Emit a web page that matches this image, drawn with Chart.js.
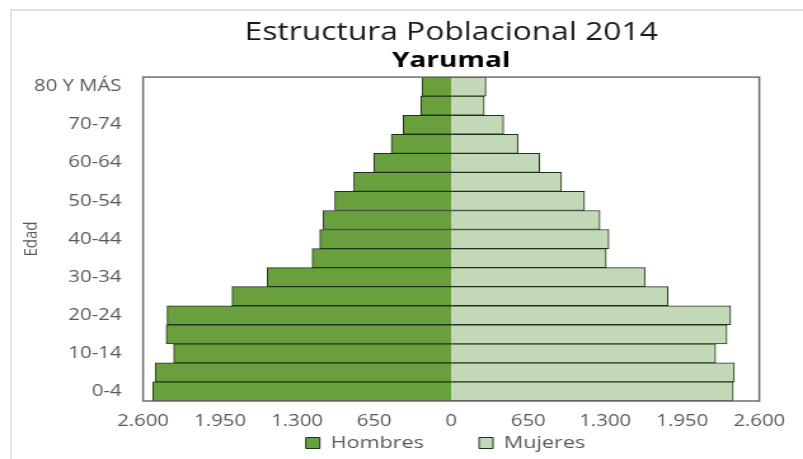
<!DOCTYPE html>
<html>
<head>
<meta charset="utf-8">
<script src="https://cdn.jsdelivr.net/npm/chart.js@4"></script>
<style>
  html, body { margin: 0; padding: 0; background: #fff; overflow: hidden; width: 803px; height: 459px; }
  #marco { position: absolute; left: 10px; top: 9px; width: 793px; height: 450px;
           border-left: 2px solid #e2e2e2; border-top: 2px solid #e2e2e2; box-sizing: border-box; }
  /* el grafico original esta estirado en horizontal */
  #caja { position: absolute; left: 0; top: 0; width: 632px; height: 459px;
          transform: scaleX(1.2706); transform-origin: 0 0; }
</style>
</head>
<body>
<div id="marco"></div>
<div id="caja"><canvas id="piramide"></canvas></div>
<script>
const edades = ['0-4', '5-9', '10-14', '15-19', '20-24', '25-29', '30-34', '35-39', '40-44',
  '45-49', '50-54', '55-59', '60-64', '65-69', '70-74', '75-79', '80 Y MÁS'];
const hombres = [2519, 2498, 2342, 2405, 2397, 1849, 1553, 1173, 1109, 1080, 982, 822, 653, 506, 405, 256, 247];
const mujeres = [2380, 2389, 2231, 2327, 2358, 1829, 1635, 1308, 1331, 1255, 1125, 931, 746, 563, 442, 279, 293];
const ticksX = [-2600, -1950, -1300, -650, 0, 650, 1300, 1950, 2600];

const fuente = "'Open Sans', sans-serif";
const gris = '#595959';

const formato = (v) => Math.abs(v).toString().replace(/\B(?=(\d{3})+(?!\d))/g, '.');

// marco del area de trazado
const marcoArea = {
  id: 'marcoArea',
  afterDatasetsDraw(chart) {
    const a = chart.chartArea;
    const ctx = chart.ctx;
    ctx.save();
    ctx.strokeStyle = '#6b6b6b';
    ctx.lineWidth = 1.5;
    ctx.strokeRect(a.left, a.top, a.right - a.left, a.bottom - a.top);
    ctx.restore();
  }
};

new Chart(document.getElementById('piramide'), {
  type: 'bar',
  data: {
    labels: edades,
    datasets: [{
      label: 'Hombres',
      data: hombres.map(v => -v),
      backgroundColor: '#6a9f3e',
      borderColor: '#22321a',
      borderWidth: 1,
      barPercentage: 1,
      categoryPercentage: 1
    }, {
      label: 'Mujeres',
      data: mujeres,
      backgroundColor: '#c3d8b6',
      borderColor: '#22321a',
      borderWidth: 1,
      barPercentage: 1,
      categoryPercentage: 1
    }]
  },
  options: {
    indexAxis: 'y',
    responsive: true,
    maintainAspectRatio: false,
    animation: false,
    layout: { padding: { left: 0, right: 34.4, top: 0, bottom: 2.5 } },
    scales: {
      x: {
        stacked: true,
        min: -2600,
        max: 2600,
        afterBuildTicks(scale) { scale.ticks = ticksX.map(v => ({ value: v })); },
        afterFit(scale) { scale.height = 25.5; },
        grid: { display: false, drawTicks: false },
        border: { display: false },
        ticks: { color: gris, font: { family: fuente, size: 16 }, padding: 11, callback: formato }
      },
      y: {
        stacked: true,
        reverse: true,
        afterFit(scale) { scale.width = 112.6; },
        grid: { display: false, drawTicks: false },
        border: { display: false },
        title: { display: true, text: 'Edad', color: gris, font: { family: fuente, size: 15 }, padding: { top: 16, bottom: 0 } },
        ticks: {
          autoSkip: false,
          color: gris,
          padding: 17,
          font: { family: fuente, size: 16 },
          callback(v, i) { return i % 2 === 0 ? edades[i] : ''; }
        }
      }
    },
    plugins: {
      title: {
        display: true,
        fullSize: false,
        text: 'Estructura Poblacional 2014',
        color: '#1a1a1a',
        font: { family: fuente, size: 25, weight: 'normal' },
        padding: { top: 18, bottom: 0 }
      },
      subtitle: {
        display: true,
        fullSize: false,
        text: 'Yarumal',
        color: '#000',
        font: { family: fuente, size: 22, weight: 'bold' },
        padding: { top: 0, bottom: 2.7 }
      },
      legend: {
        position: 'bottom',
        fullSize: false,
        maxHeight: 30,
        labels: {
          color: gris,
          font: { family: fuente, size: 17 },
          boxWidth: 11,
          boxHeight: 11,
          padding: 8,
          // hueco entre las dos entradas de la leyenda
          generateLabels(chart) {
            const items = Chart.defaults.plugins.legend.labels.generateLabels(chart);
            items[0].text = items[0].text + '\u00a0'.repeat(8);
            items[1].text = items[1].text + '\u00a0\u00a0';
            return items;
          }
        }
      },
      tooltip: { enabled: false }
    }
  },
  plugins: [marcoArea]
});
</script>
</body>
</html>
